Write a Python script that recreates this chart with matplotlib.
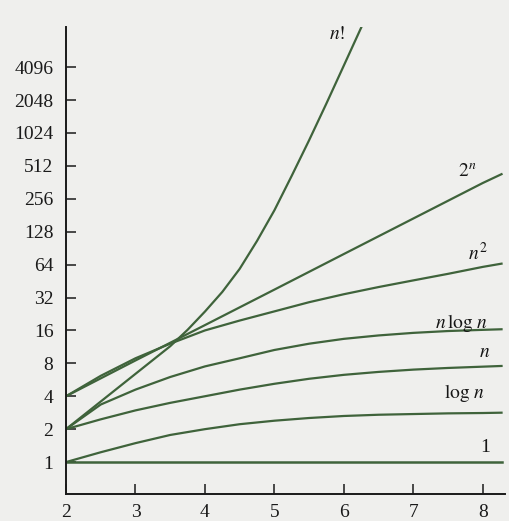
import matplotlib
matplotlib.use("Agg")
import matplotlib.pyplot as plt

# values (y axis is log base 2)
n_half = [2, 2.5, 3, 3.5, 4, 4.5, 5, 5.5, 6, 6.5, 7, 7.5, 8, 8.27]
n_whole = [2, 3, 4, 5, 6, 7, 8, 8.27]
n_fact = [2, 2.5, 3, 3.5, 3.75, 4, 4.25, 4.5, 4.75, 5, 5.25, 5.5, 5.75, 6, 6.26]

one_vals = [1, 1]
one_n = [2, 8.27]
log_vals = [1, 1.23, 1.49, 1.77, 2.0, 2.22, 2.39, 2.53, 2.64, 2.71, 2.75, 2.79, 2.81, 2.83]
lin_vals = [2, 2.46, 2.97, 3.48, 4.0, 4.6, 5.2, 5.78, 6.28, 6.68, 7.01, 7.26, 7.46, 7.57]
nlog_vals = [2, 3.36, 4.6, 6.0, 7.5, 8.9, 10.6, 12.1, 13.4, 14.4, 15.2, 15.8, 16.2, 16.4]
sq_vals = [4, 6.15, 8.9, 12.1, 16, 19.7, 23.9, 29, 34.3, 39.9, 45.9, 52.7, 61, 65.3]
exp_vals = [4, 8.5, 17.9, 37.8, 80, 169, 357, 430]
fact_vals = [2, 3.58, 6.41, 11.47, 16.2, 23.8, 36.0, 58.5, 105.4, 200.8,
             416, 879, 1911, 4240, 9741]

y_ticks = [1, 2, 4, 8, 16, 32, 64, 128, 256, 512, 1024, 2048, 4096]
x_ticks = [2, 3, 4, 5, 6, 7, 8]

# curve labels and where they sit
labels = ["$n!$", "$2^n$", "$n^2$", r"$n\,\log\,n$", "$n$", r"$\log\,n$", "1"]
label_x = [5.9, 7.78, 7.93, 7.70, 8.03, 7.74, 8.03]
label_y = [2 ** 12.98, 2 ** 8.81, 2 ** 6.35, 2 ** 4.22, 2 ** 3.34, 2 ** 2.1, 2 ** 0.43]

line_color = "#3f633b"
paper = "#efefed"

plt.rcParams["font.family"] = ["Liberation Serif", "DejaVu Serif"]
plt.rcParams["mathtext.fontset"] = "stix"

fig = plt.figure(figsize=(5.10, 5.21), dpi=100, facecolor=paper)
ax = fig.add_axes([66 / 510, 27 / 521, 439 / 510, 467 / 521])
ax.set_facecolor(paper)

# draw the curves
ax.plot(one_n, one_vals, color=line_color, lw=1.8)
ax.plot(n_half, log_vals, color=line_color, lw=1.6)
ax.plot(n_half, lin_vals, color=line_color, lw=1.6)
ax.plot(n_half, nlog_vals, color=line_color, lw=1.6)
ax.plot(n_half, sq_vals, color=line_color, lw=1.6)
ax.plot(n_whole, exp_vals, color=line_color, lw=1.6)
ax.plot(n_fact, fact_vals, color=line_color, lw=1.6)

for text, tx, ty in zip(labels, label_x, label_y):
    ax.text(tx, ty, text, fontsize=14, ha="center", va="center", color="#161616")

ax.set_yscale("log", base=2)
ax.set_xlim(2, 8.32)
ax.set_ylim(2 ** -0.97, 2 ** 13.22)

ax.set_yticks(y_ticks)
ax.set_yticklabels([str(v) for v in y_ticks])
ax.set_xticks(x_ticks)
ax.set_xticklabels([str(v) for v in x_ticks])
ax.minorticks_off()

ax.tick_params(axis="both", direction="in", length=7, width=1.1,
               colors="#1a1a1a", labelsize=14)
ax.tick_params(axis="y", pad=9)
ax.tick_params(axis="x", pad=7)

for side in ["top", "right"]:
    ax.spines[side].set_visible(False)
for side in ["left", "bottom"]:
    ax.spines[side].set_linewidth(1.4)
    ax.spines[side].set_color("#1a1a1a")

fig.savefig("out.png", dpi=100, facecolor=paper)
